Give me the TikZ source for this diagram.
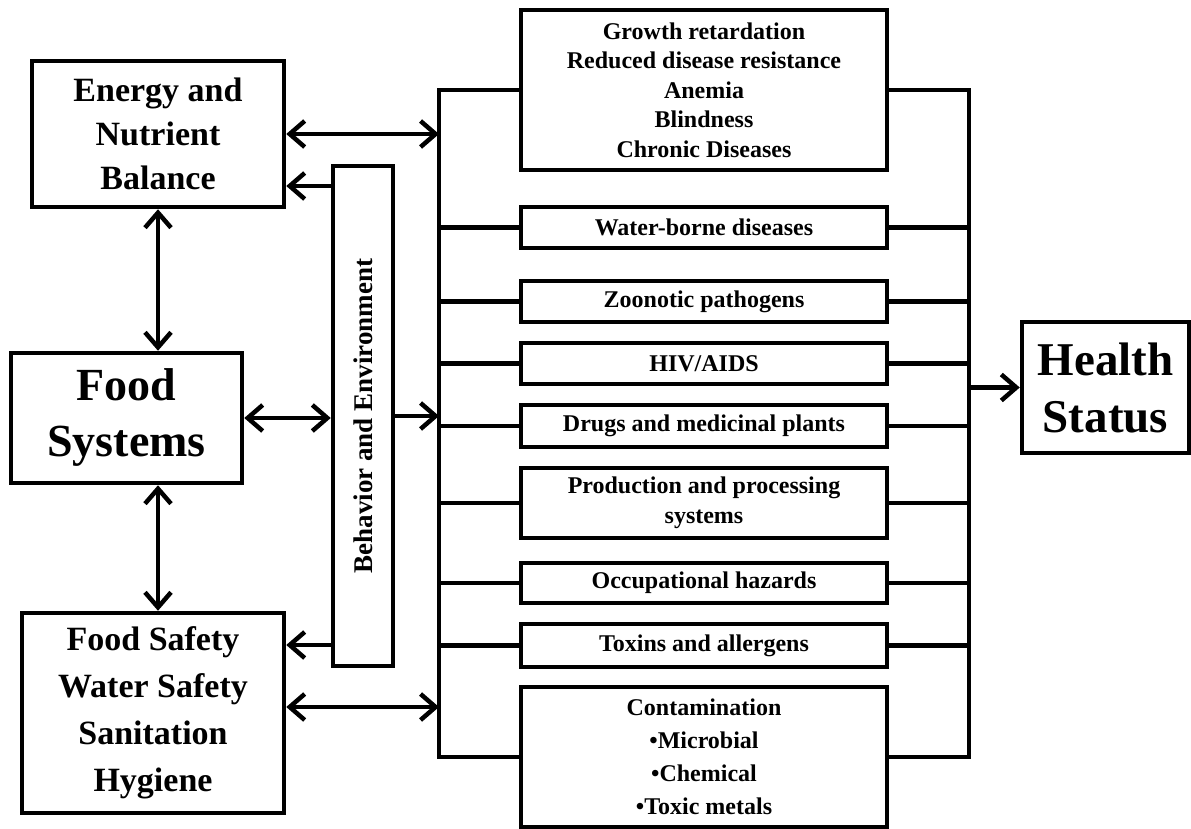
\documentclass[tikz,border=0pt]{standalone}
\usepackage{fontspec}
\setmainfont{Liberation Serif}
\usetikzlibrary{arrows.meta}
\begin{document}
\begin{tikzpicture}[x=1pt,y=-1pt,
  box/.style={draw, line width=4.5pt, rectangle, inner sep=0pt, align=center},
  rbox/.style={box, minimum width=366pt, font={\bfseries\fontsize{24}{29.5}\selectfont}},
  ln/.style={line width=4.5pt},
  arr/.style={line width=4.5pt, -{Straight Barb[length=15pt,width=26pt,line width=4.5pt]}},
  darr/.style={line width=4.5pt, {Straight Barb[length=15pt,width=26pt,line width=4.5pt]}-{Straight Barb[length=15pt,width=26pt,line width=4.5pt]}}]
\useasboundingbox (0,0) rectangle (1191,829);
% left boxes
\node[box, minimum width=252pt, minimum height=146pt, font={\bfseries\fontsize{34}{44}\selectfont}] (energy) at (158,134) {Energy and\\Nutrient\\Balance};
\node[box, minimum width=231pt, minimum height=130pt, font={\bfseries\fontsize{46}{56}\selectfont}] (food) at (126.5,418) {Food\\Systems};
\node[box, minimum width=262pt, minimum height=200pt, font={\bfseries\fontsize{34}{47}\selectfont}] (safety) at (153,713) {Food Safety\\Water Safety\\Sanitation\\Hygiene};
\node[box, minimum width=60pt, minimum height=500pt, font={\bfseries\fontsize{27}{32}\selectfont}] (behav) at (363,416) {\rotatebox{90}{Behavior and Environment}};
% right column
\node[rbox, minimum height=160pt] (top) at (704,90) {Growth retardation\\Reduced disease resistance\\Anemia\\Blindness\\Chronic Diseases};
\node[rbox, minimum height=41pt] (water) at (704,227.5) {Water-borne diseases};
\node[rbox, minimum height=41pt] (zoon) at (704,301.5) {Zoonotic pathogens};
\node[rbox, minimum height=41pt] (hiv) at (704,363.5) {HIV/AIDS};
\node[rbox, minimum height=42pt] (drugs) at (704,426) {Drugs and medicinal plants};
\node[rbox, minimum height=70pt] (prod) at (704,503) {Production and processing\\systems};
\node[rbox, minimum height=40pt] (occ) at (704,583) {Occupational hazards};
\node[rbox, minimum height=43pt] (tox) at (704,645.5) {Toxins and allergens};
\node[rbox, minimum height=140pt, font={\bfseries\fontsize{24}{33}\selectfont}] (cont) at (704,757) {Contamination\\•Microbial\\•Chemical\\•Toxic metals};
\node[box, minimum width=167pt, minimum height=131pt, font={\bfseries\fontsize{47}{57}\selectfont}] (health) at (1105.5,387.5) {Health\\Status};
% buses
\coordinate (lb) at (439,0);
\coordinate (rb) at (969,0);
\draw[ln] (top.west) -- (top.west -| lb) -- (cont.west -| lb) -- (cont.west);
\draw[ln] (top.east) -- (top.east -| rb) -- (cont.east -| rb) -- (cont.east);
\foreach \n in {water,zoon,hiv,drugs,prod,occ,tox}{
  \draw[ln] (\n.west -| lb) -- (\n.west);
  \draw[ln] (\n.east) -- (\n.east -| rb);
}
% arrows
\coordinate (yA) at (0,186);
\coordinate (yB) at (0,645);
\coordinate (yC) at (0,707);
\draw[darr] (energy.east) -- (energy.east -| lb);
\draw[arr] (behav.west |- yA) -- (energy.east |- yA);
\draw[darr] (energy.south) -- (energy.south |- food.north);
\draw[darr] (food.east) -- (food.east -| behav.west);
\draw[arr] (behav.east) -- (behav.east -| lb);
\draw[darr] (food.south -| energy.south) -- (safety.north -| energy.south);
\draw[arr] (behav.west |- yB) -- (safety.east |- yB);
\draw[darr] (safety.east |- yC) -- (yC -| lb);
\draw[arr] (health.west -| rb) -- (health.west);
\end{tikzpicture}
\end{document}
